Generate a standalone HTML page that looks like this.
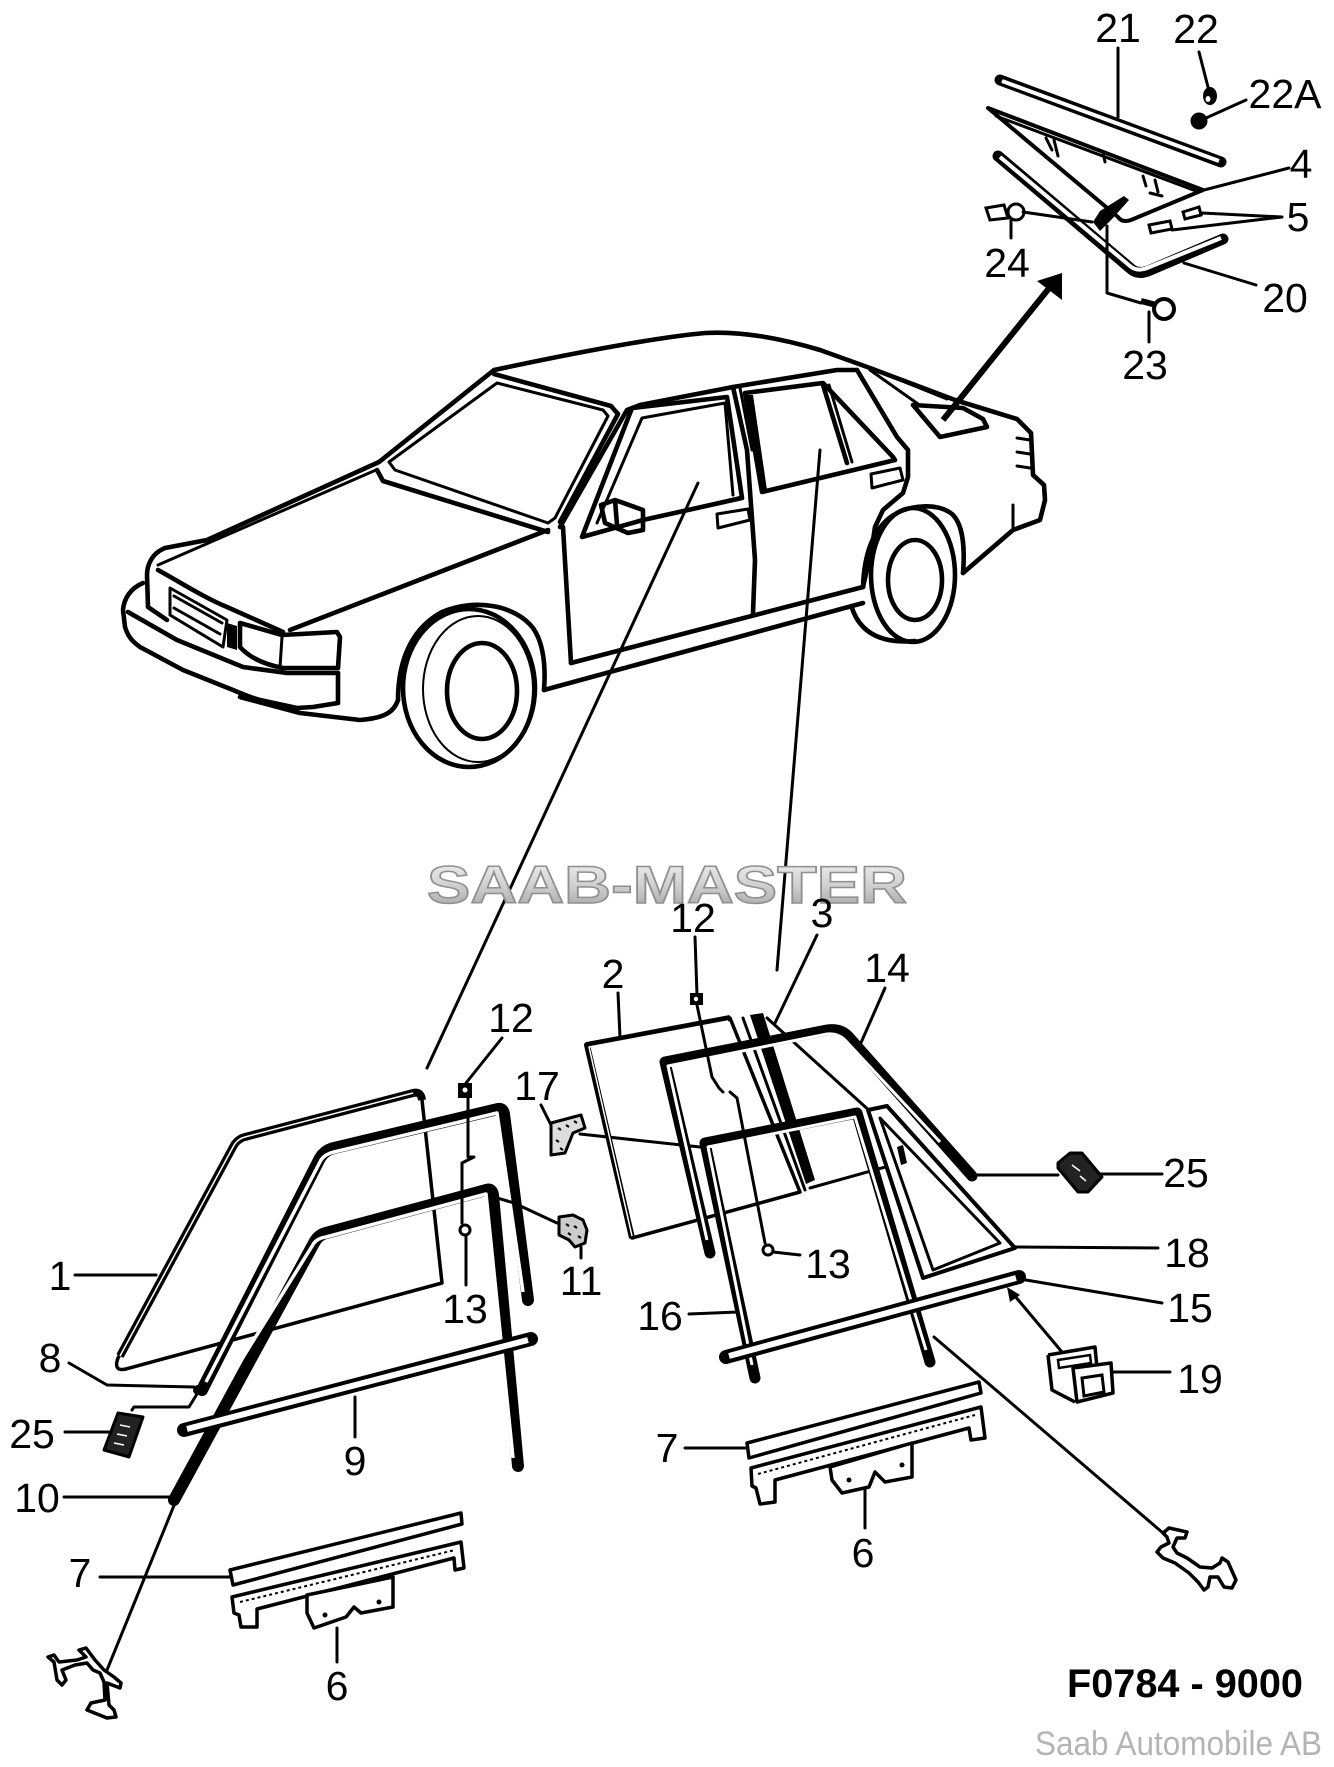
<!DOCTYPE html>
<html><head><meta charset="utf-8">
<style>
html,body{margin:0;padding:0;background:#fff;}
svg{display:block;}
.l{fill:none;stroke:#000;stroke-width:4.6;stroke-linejoin:round;stroke-linecap:round;}
.t{fill:none;stroke:#000;stroke-width:3;stroke-linecap:round;stroke-linejoin:round;}
.w{fill:none;stroke:#fff;stroke-linecap:butt;stroke-linejoin:round;}
.n{font-family:"Liberation Sans",Arial,sans-serif;font-size:41px;fill:#000;text-anchor:middle;}
</style></head>
<body>
<svg width="1334" height="1767" viewBox="0 0 1334 1767" xmlns="http://www.w3.org/2000/svg">
<defs>
<linearGradient id="wm" x1="0" y1="0" x2="0" y2="1">
<stop offset="0" stop-color="#f4f4f4"/><stop offset="0.5" stop-color="#d0d0d0"/><stop offset="1" stop-color="#9c9c9c"/>
</linearGradient>
</defs>
<rect width="1334" height="1767" fill="#fff"/>

<!-- ================= CAR ================= -->
<g>
<path class="l" d="M379,462 L494,370 C560,356 650,338 705,333 C740,331 780,338 820,350 L870,368 L955,400 L1017,419 L1031,433 L1033,475 L1044,485 L1045,500 L1040,520 L1013,530 L963,573"/>
<path class="t" d="M1017,438 L1030,440 M1017,452 L1030,454 M1017,466 L1030,468 M1013,505 L1013,528"/>
<path class="l" d="M494,374 L611,406 L618,414 L560,522"/>
<path class="t" d="M497,383 L389,462 L395,470 L548,523 L555,518 L608,416 L603,410 Z"/>
<path class="l" d="M377,470 L383,481 L548,532"/>
<path class="l" d="M379,462 L207,540 L165,548 C152,553 147,565 147,575 L148,607 L167,620"/>
<path class="t" d="M376,470 L158,565"/>
<path class="l" d="M158,570 C185,585 205,598 227,607 L283,632"/>
<path class="l" d="M290,630 L548,530"/>
<path class="l" d="M240,623 L282,635 L337,632 L340,637 L338,668 L283,668 C262,664 248,656 240,647 Z"/>
<path class="t" d="M282,637 L280,667"/>
<path class="t" d="M170,588 L227,620 L223,647 L170,615 Z M174,596 L222,623 M174,608 L220,634"/>
<path d="M227,623 L237,626 L237,650 L227,647 Z" fill="#000"/>
<path class="l" d="M143,583 C131,588 124,598 123,610 L125,627 C128,637 133,642 140,647 L183,670 L233,690 C245,695 252,698 260,700 L297,708 L313,707 L338,703 L338,673"/>
<path class="l" d="M128,612 L177,640 L243,667 L287,673 L338,673"/>
<path class="l" d="M240,697 L300,713 L360,720 C385,718 394,712 398,700"/>
<path class="l" d="M398,700 C398,660 412,628 442,612 C475,598 515,605 533,628 C543,642 546,665 544,690"/>
<ellipse class="l" cx="469" cy="688" rx="66" ry="79"/>
<ellipse cx="478" cy="689" rx="55" ry="73" fill="none" stroke="#000" stroke-width="2"/>
<ellipse class="l" cx="482" cy="691" rx="35" ry="48"/>
<path class="l" d="M544,690 L863,603"/>
<path class="l" d="M571,663 L863,587"/>
<path class="l" d="M563,527 L571,663"/>
<path class="l" d="M560,527 L627,410 L640,405 L733,387 L837,370 L857,370"/>
<path class="l" d="M582,537 L632,408 L727,397 L742,498 L643,520 L582,537"/>
<path class="t" d="M597,523 L642,418 L725,403 L733,495"/>
<path class="t" d="M643,520 L742,497"/>
<path class="l" d="M601,505 L615,500 L643,510 L643,530 L628,533 L605,523 Z M615,500 L617,525"/>
<path class="t" d="M717,514 L748,509 L750,520 L718,528 Z"/>
<path class="l" d="M733,387 L747,450 L755,560 L753,613"/>
<path class="t" d="M740,388 L752,450"/>
<path class="l" d="M745,393 L823,383 L893,457 L895,460 L762,492 Z"/>
<path d="M747,395 L753,395 L767,490 L761,491 Z" fill="#000"/>
<path class="l" d="M823,385 L847,463"/>
<path class="t" d="M829,385 L852,462"/>
<path class="t" d="M871,474 L900,468 L903,480 L872,488 Z"/>
<path class="l" d="M857,370 L897,437 L908,450 L908,477 L903,493 L883,510 L875,527 L872,547 L863,587"/>
<path class="t" d="M870,370 L918,404 M880,372 L947,399"/>
<path class="l" d="M913,405 L940,437 L987,427 L983,419 L963,408 Z"/>
<path class="l" d="M863,587 C864,556 872,530 892,516 C910,504 938,503 952,514 C963,524 965,548 963,573"/>
<ellipse class="l" cx="913" cy="575" rx="42" ry="67"/>
<ellipse class="l" cx="915" cy="580" rx="27" ry="40"/>
<path class="l" d="M852,608 C860,632 880,644 915,641"/>
</g>

<path class="t" d="M698,483 L427,1068"/>
<path class="t" d="M820,450 L777,970"/>

<path d="M943,420 L1050,287" stroke="#000" stroke-width="6" fill="none"/>
<path d="M1062,273 L1037,281 L1062,300 Z" fill="#000"/>

<!-- ================= TOP RIGHT GROUP ================= -->
<path d="M1000,80 L1221,162" stroke="#000" stroke-width="11" stroke-linecap="round" fill="none"/>
<path d="M1002,81 L1219,161" class="w" stroke-width="4"/>
<path d="M988,108 L1203,190 L1131,220 Q1122,223 1118,217 Z" fill="#fff" stroke="#000" stroke-width="4" stroke-linejoin="round"/>
<path class="t" d="M996,116 L1196,191"/>
<path class="t" d="M1046,138 L1052,150 M1054,140 L1058,156 M1103,152 L1105,162 M1143,176 L1146,186 M1155,180 L1158,192 M1150,193 L1162,196"/>
<path d="M998,156 L1130,268 Q1137,275 1148,271 L1223,239" stroke="#000" stroke-width="11" stroke-linecap="round" stroke-linejoin="round" fill="none"/>
<path d="M1000,157 L1130,266 Q1137,272 1147,268 L1221,238" class="w" stroke-width="4"/>
<path d="M1183,212 L1199,207 L1201,215 L1185,219 Z" fill="#fff" stroke="#000" stroke-width="3"/>
<path d="M1149,225 L1170,221 L1172,229 L1151,233 Z" fill="#fff" stroke="#000" stroke-width="3"/>
<path class="t" d="M1202,213 L1282,217 M1172,230 L1282,217"/>
<path d="M1093,222 L1100,211 L1124,196 L1129,200 L1112,219 L1100,231 Z" fill="#000"/>
<path d="M986,208 L1004,205 L1008,218 L990,220 Z" fill="#fff" stroke="#000" stroke-width="3"/>
<circle cx="1016" cy="212" r="8" fill="#fff" stroke="#000" stroke-width="3"/>
<path class="t" d="M1023,212 L1092,222 M1011,220 L1011,238"/>
<path class="t" d="M1107,226 L1107,293 L1141,303"/>
<path d="M1141,301 L1160,306" stroke="#000" stroke-width="6"/>
<circle cx="1164" cy="309" r="10" fill="#fff" stroke="#000" stroke-width="4"/>
<path class="t" d="M1149,312 L1149,342"/>
<path class="t" d="M1199,52 L1208,87"/>
<ellipse cx="1210" cy="96" rx="7" ry="9" fill="#000"/>
<ellipse cx="1208" cy="99" rx="2.5" ry="3" fill="#fff"/>
<circle cx="1199" cy="121" r="8.5" fill="#000"/>
<path class="t" d="M1246,100 L1206,118"/>
<path class="t" d="M1118,48 L1118,117"/>
<path class="t" d="M1289,168 L1204,190"/>
<path class="t" d="M1256,285 L1184,263"/>

<!-- ================= LEFT DOOR PARTS ================= -->
<path d="M245,1137 L413,1093 Q421,1091 422,1100 L442,1283 L126,1369 Q113,1372 118,1358 L233,1147 Q237,1139 245,1137 Z" fill="none" stroke="#000" stroke-width="3.5" stroke-linejoin="round"/>
<path d="M120,1356 L233,1147 Q237,1139 245,1137 L413,1093 Q421,1091 422,1100" fill="none" stroke="#000" stroke-width="8" stroke-linejoin="round"/>
<path d="M120,1356 L233,1147 Q237,1139 245,1137 L413,1093" class="w" stroke-width="1.5"/>
<path d="M202,1390 L320,1158 Q325,1150 334,1148 L498,1109 Q503,1108 504,1114 L528,1300" stroke="#000" stroke-width="12" stroke-linecap="round" stroke-linejoin="round" fill="none"/>
<path d="M206,1382 L321,1160 Q325,1154 334,1152 L497,1113 L523,1292" class="w" stroke-width="3.5"/>
<path d="M174,1500 L314,1243 Q318,1235 326,1233 L486,1190 Q492,1188 493,1195 L518,1466" stroke="#000" stroke-width="12" stroke-linecap="round" stroke-linejoin="round" fill="none"/>
<path d="M232,1375 L314,1243 Q318,1238 326,1237 L486,1194 L513,1458" class="w" stroke-width="3.5"/>
<path d="M184,1430 L531,1339" stroke="#000" stroke-width="14" stroke-linecap="round" fill="none"/>
<path d="M187,1429 L528,1340" class="w" stroke-width="6"/>
<path d="M104,1450 L118,1413 L143,1417 L129,1457 Z" fill="#222" stroke="#000" stroke-width="3" stroke-linejoin="round"/>
<path d="M120,1425 L130,1427 M117,1434 L127,1436 M114,1443 L124,1445" stroke="#fff" stroke-width="1.5"/>
<path class="t" d="M132,1410 L134,1407 L189,1407 L197,1394"/>
<circle cx="198" cy="1390" r="5" fill="#000"/>
<path class="t" d="M75,1275 L156,1275"/>
<path class="t" d="M69,1363 L107,1385 L194,1387"/>
<path class="t" d="M65,1432 L109,1432"/>
<path class="t" d="M64,1497 L171,1497"/>
<path class="t" d="M355,1397 L355,1437"/>
<path class="t" d="M175,1503 L107,1670"/>
<path class="t" d="M502,1038 L466,1083"/>
<rect x="458" y="1083" width="14" height="15" fill="#000"/>
<circle cx="465" cy="1090" r="2.5" fill="#fff"/>
<path class="t" d="M468,1098 L468,1157 L474,1157 L462,1163 L462,1223"/>
<circle cx="465" cy="1230" r="5" fill="#fff" stroke="#000" stroke-width="3"/>
<path class="t" d="M466,1236 L466,1285"/>
<path d="M551,1123 L581,1115 L585,1128 L573,1133 L565,1153 L551,1155 Z" fill="#ddd" stroke="#000" stroke-width="3" stroke-linejoin="round"/>
<path d="M558,1128 l3,2 M566,1125 l3,2 M574,1121 l3,2 M556,1140 l3,2 M560,1148 l3,2" stroke="#000" stroke-width="2"/>
<path class="t" d="M541,1105 L551,1125"/>
<path class="t" d="M580,1134 L700,1147"/>
<path d="M559,1217 L573,1215 L583,1220 L587,1230 L585,1243 L575,1247 L569,1240 L559,1235 Z" fill="#ccc" stroke="#000" stroke-width="3" stroke-linejoin="round"/>
<path d="M566,1224 l3,2 M574,1226 l3,2 M568,1233 l3,2 M578,1236 l3,2" stroke="#000" stroke-width="2"/>
<path class="t" d="M494,1197 L514,1203 L557,1223 M581,1247 L581,1258"/>
<path d="M230,1570 L461,1513 L462,1524 L233,1585 Z" fill="#fff" stroke="#000" stroke-width="3.5" stroke-linejoin="round"/>
<path class="t" d="M100,1577 L230,1577"/>
<path d="M232,1597 L461,1542 L464,1568 L455,1570 L454,1558 L257,1609 L257,1627 L241,1627 L239,1615 L234,1613 Z" fill="#fff" stroke="#000" stroke-width="3.5" stroke-linejoin="round"/>
<path d="M240,1602 L455,1550" stroke="#000" stroke-width="2" stroke-dasharray="3 3"/>
<path d="M307,1595 L393,1577 L393,1607 L361,1613 L354,1607 L346,1617 L314,1628 L307,1613 Z" fill="#fff" stroke="#000" stroke-width="3.5" stroke-linejoin="round"/>
<circle cx="325" cy="1615" r="2.5" fill="#000"/><circle cx="379" cy="1602" r="2.5" fill="#000"/>
<path class="t" d="M337,1628 L337,1662"/>
<path d="M48,1657 L54,1662 L57,1680 L62,1685 L66,1680 L62,1670 L75,1665 L87,1663 L93,1670 L100,1673 L104,1682 L105,1700 L91,1703 L87,1710 L107,1718 L116,1717 L114,1710 L109,1705 L107,1683 L120,1688 L121,1683 L114,1677 L104,1670 L95,1660 L86,1648 L79,1650 L86,1657 L77,1660 L59,1662 L54,1655 Z" fill="#fff" stroke="#000" stroke-width="3.5" stroke-linejoin="round"/>

<!-- ================= RIGHT DOOR PARTS ================= -->
<path d="M587,1045 L730,1018 L800,1192 L632,1238 Z" fill="none" stroke="#000" stroke-width="3.5" stroke-linejoin="round"/>
<path d="M632,1238 L587,1045 L730,1018" fill="none" stroke="#000" stroke-width="6" stroke-linejoin="round"/>
<path d="M632,1236 L589,1047 L728,1021" class="w" stroke-width="1.5"/>
<path class="t" d="M743,1018 L805,1190 M767,1018 L872,1113 M810,1188 L903,1162"/>
<path d="M750,1015 L763,1013 L815,1180 L806,1184 Z" fill="#000"/>
<path d="M710,1253 L665,1062 L827,1030 Q840,1028 848,1036 L972,1176" stroke="#000" stroke-width="11" stroke-linecap="round" stroke-linejoin="round" fill="none"/>
<path d="M707,1240 L668,1066 L827,1034 Q838,1033 845,1040 L940,1142" class="w" stroke-width="3"/>
<path d="M868,1110 L887,1106 L1015,1248 L923,1278 Z" fill="#fff" stroke="#000" stroke-width="4" stroke-linejoin="round"/>
<path d="M880,1118 L1000,1243 L933,1270 Z" fill="none" stroke="#000" stroke-width="3" stroke-linejoin="round"/>
<path d="M897,1147 L903,1145 L907,1163 L901,1165 Z" fill="#000"/>
<path d="M755,1378 L705,1143 L857,1113 L930,1362" stroke="#000" stroke-width="11" stroke-linecap="round" stroke-linejoin="round" fill="none"/>
<path d="M752,1365 L708,1147 L855,1117 L926,1350" class="w" stroke-width="3"/>
<path d="M726,1357 L1019,1277" stroke="#000" stroke-width="14" stroke-linecap="round" fill="none"/>
<path d="M729,1356 L1016,1278" class="w" stroke-width="6"/>
<path class="t" d="M695,937 L697,995"/>
<rect x="690" y="993" width="13" height="12" fill="#000"/>
<circle cx="696" cy="999" r="2.2" fill="#fff"/>
<path class="t" d="M697,1005 L707,1053 L712,1077 L719,1088 L723,1092 M730,1092 L737,1098 L765,1243"/>
<circle cx="768" cy="1250" r="5" fill="#fff" stroke="#000" stroke-width="3"/>
<path class="t" d="M773,1252 L800,1255"/>
<path d="M1058,1163 L1070,1153 L1082,1153 L1102,1177 L1088,1192 L1078,1192 L1058,1168 Z" fill="#222" stroke="#000" stroke-width="3" stroke-linejoin="round"/>
<path d="M1072,1165 l8,6 M1080,1176 l6,5" stroke="#fff" stroke-width="1.5"/>
<path class="t" d="M973,1175 L1058,1175 M1100,1174 L1162,1174"/>
<path d="M1048,1355 L1095,1347 L1097,1368 M1048,1355 L1052,1390 L1075,1402" fill="none" stroke="#000" stroke-width="3.5" stroke-linejoin="round"/>
<path d="M1058,1360 L1090,1355 L1091,1363 L1059,1368 Z" fill="none" stroke="#000" stroke-width="2.5"/>
<path d="M1073,1368 L1111,1363 L1113,1393 L1077,1402 Z" fill="#fff" stroke="#000" stroke-width="3.5" stroke-linejoin="round"/>
<path d="M1082,1378 L1102,1375 L1104,1392 L1084,1396 Z" fill="none" stroke="#000" stroke-width="3"/>
<path class="t" d="M1062,1352 L1014,1295 M1113,1372 L1170,1372"/>
<path d="M1007,1287 L1020,1295 L1010,1302 Z" fill="#000"/>
<path class="t" d="M618,993 L620,1037"/>
<path class="t" d="M817,935 L775,1023"/>
<path class="t" d="M885,988 L860,1045"/>
<path class="t" d="M1015,1247 L1158,1248"/>
<path class="t" d="M1020,1279 L1162,1303"/>
<path class="t" d="M689,1314 L738,1312"/>
<path class="t" d="M934,1337 L1163,1533"/>
<path d="M747,1443 L979,1382 L981,1393 L749,1458 Z" fill="#fff" stroke="#000" stroke-width="3.5" stroke-linejoin="round"/>
<path class="t" d="M685,1448 L745,1448"/>
<path d="M751,1468 L981,1407 L985,1438 L971,1440 L969,1428 L775,1480 L775,1502 L760,1504 L756,1488 L752,1486 Z" fill="#fff" stroke="#000" stroke-width="3.5" stroke-linejoin="round"/>
<path d="M758,1474 L975,1415" stroke="#000" stroke-width="2" stroke-dasharray="3 3"/>
<path d="M830,1467 L912,1443 L912,1477 L885,1482 L875,1472 L869,1487 L842,1493 L832,1480 Z" fill="#fff" stroke="#000" stroke-width="3.5" stroke-linejoin="round"/>
<circle cx="849" cy="1480" r="2.5" fill="#000"/><circle cx="902" cy="1465" r="2.5" fill="#000"/>
<path class="t" d="M865,1490 L865,1528"/>
<path d="M1163,1533 L1169,1528 L1187,1532 L1185,1538 L1177,1538 L1173,1547 L1177,1553 L1187,1558 L1200,1567 L1212,1568 L1220,1563 L1222,1558 L1228,1562 L1236,1580 L1232,1588 L1224,1587 L1218,1577 L1210,1577 L1208,1587 L1204,1590 L1198,1582 L1189,1573 L1175,1563 L1163,1558 L1157,1552 L1161,1547 L1169,1543 L1167,1537 Z" fill="#fff" stroke="#000" stroke-width="3.5" stroke-linejoin="round"/>

<!-- ================= WATERMARK ================= -->
<text x="427" y="903" textLength="480" lengthAdjust="spacingAndGlyphs" style="font-family:'Liberation Sans',Arial,sans-serif;font-weight:bold;font-size:53px;" fill="url(#wm)" stroke="#8f8f8f" stroke-width="1.5">SAAB-MASTER</text>

<!-- ================= LABELS ================= -->
<text class="n" x="1118" y="42">21</text>
<text class="n" x="1196" y="43">22</text>
<text class="n" x="1285" y="108">22A</text>
<text class="n" x="1301" y="178">4</text>
<text class="n" x="1298" y="231">5</text>
<text class="n" x="1007" y="277">24</text>
<text class="n" x="1285" y="312">20</text>
<text class="n" x="1145" y="379">23</text>

<text class="n" x="511" y="1032">12</text>
<text class="n" x="537" y="1100">17</text>
<text class="n" x="60" y="1290">1</text>
<text class="n" x="465" y="1323">13</text>
<text class="n" x="581" y="1295">11</text>
<text class="n" x="50" y="1372">8</text>
<text class="n" x="32" y="1448">25</text>
<text class="n" x="37" y="1512">10</text>
<text class="n" x="355" y="1475">9</text>
<text class="n" x="80" y="1587">7</text>
<text class="n" x="337" y="1700">6</text>

<text class="n" x="693" y="932">12</text>
<text class="n" x="822" y="927">3</text>
<text class="n" x="613" y="988">2</text>
<text class="n" x="887" y="982">14</text>
<text class="n" x="1186" y="1187">25</text>
<text class="n" x="828" y="1278">13</text>
<text class="n" x="1187" y="1267">18</text>
<text class="n" x="660" y="1330">16</text>
<text class="n" x="1190" y="1322">15</text>
<text class="n" x="1200" y="1393">19</text>
<text class="n" x="667" y="1462">7</text>
<text class="n" x="863" y="1567">6</text>

<text x="1067" y="1697" textLength="236" lengthAdjust="spacingAndGlyphs" style="font-family:'Liberation Sans',Arial,sans-serif;font-weight:bold;font-size:40px;" fill="#000">F0784 - 9000</text>
<text x="1035" y="1755" textLength="287" lengthAdjust="spacingAndGlyphs" style="font-family:'Liberation Sans',Arial,sans-serif;font-size:34px;" fill="#b4b4b4">Saab Automobile AB</text>
</svg>
</body></html>
